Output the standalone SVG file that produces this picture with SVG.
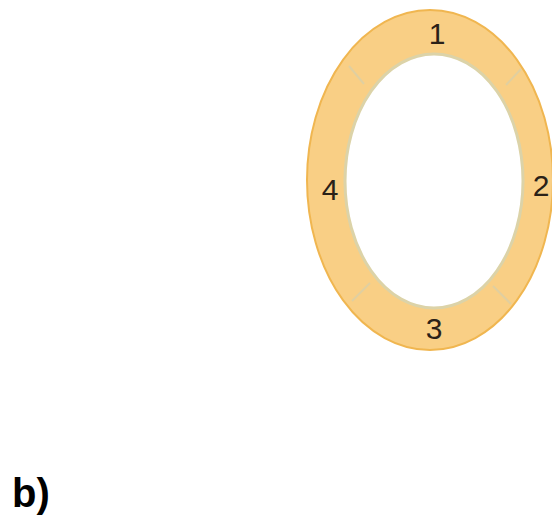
<svg xmlns="http://www.w3.org/2000/svg" width="552" height="524" viewBox="0 0 552 524">
<style>
.num{font-family:"Liberation Sans",Arial,sans-serif;font-size:30px;fill:#2a2118;text-anchor:middle}
.div{stroke:#e0cfa0;stroke-width:2}
</style>
<rect width="552" height="524" fill="#ffffff"/>
<g id="ring">
<path d="M 307 180 A 123 170 0 1 0 553 180 A 123 170 0 1 0 307 180 Z M 345 181 A 89 127 0 1 1 523 181 A 89 127 0 1 1 345 181 Z" fill="#f9cf85" fill-rule="evenodd" stroke="none"/>
<ellipse cx="430" cy="180" rx="123" ry="170" fill="none" stroke="#f0b650" stroke-width="2"/>
<ellipse cx="434" cy="181" rx="89" ry="127" fill="none" stroke="#dcd3a8" stroke-width="3"/>
</g>
<g id="connectors">
<line class="div" x1="349" y1="66" x2="364" y2="84"/>
<line class="div" x1="521" y1="69" x2="506" y2="85"/>
<line class="div" x1="352" y1="301" x2="370" y2="283"/>
<line class="div" x1="493" y1="286" x2="511" y2="304"/>
</g>
<g id="seg1"><text class="num" x="437" y="44">1</text></g>
<g id="seg2"><text class="num" x="541" y="196">2</text></g>
<g id="seg3"><text class="num" x="434" y="339">3</text></g>
<g id="seg4"><text class="num" x="330" y="200">4</text></g>
<g id="label"><text x="12" y="507" font-family="Liberation Sans,Arial,sans-serif" font-weight="bold" font-size="40" fill="#000">b)</text></g>
</svg>
